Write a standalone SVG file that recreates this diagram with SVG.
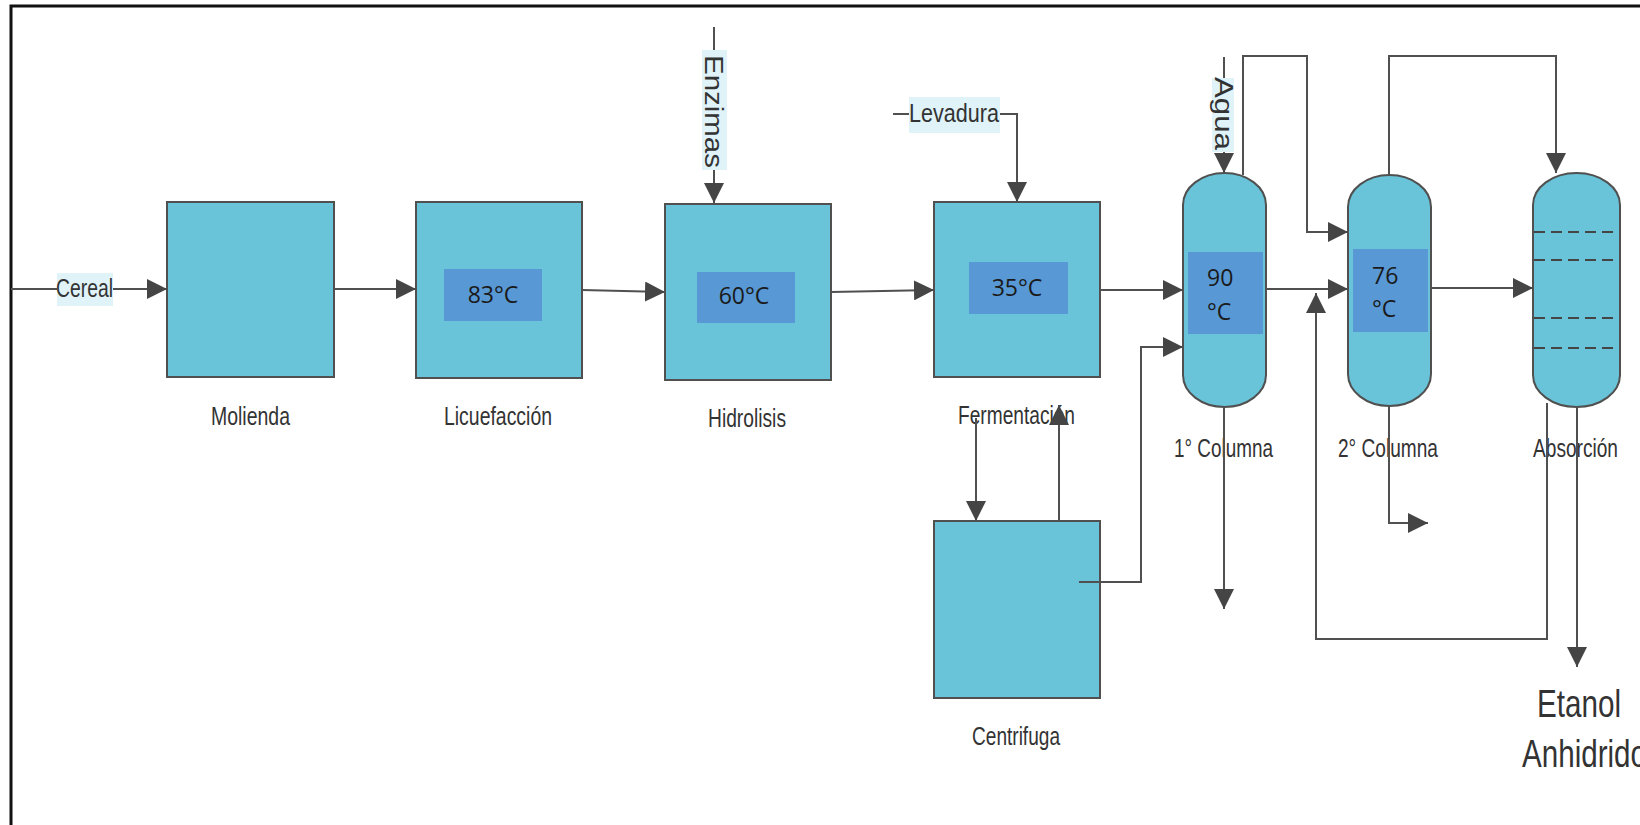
<svg xmlns="http://www.w3.org/2000/svg" width="1640" height="825" viewBox="0 0 1640 825">
  <defs>
    <marker id="arrow" markerUnits="userSpaceOnUse" markerWidth="20" markerHeight="20" refX="20" refY="10" orient="auto">
      <path d="M0,0 L20,10 L0,20 z" fill="#454545"/>
    </marker>
    <style>
      .unit { fill: #6ac4d9; stroke: #505050; stroke-width: 2; }
      .temp { fill: #5898d4; }
      .tempText { font-family: "Open Sans", "DejaVu Sans", sans-serif; font-size: 23px; fill: #1a1a1a; }
      .label { font-family: "Liberation Sans Narrow", "Liberation Sans", Arial, sans-serif; font-size: 25px; fill: #333333; }
      .tag { fill: #dff3f9; }
      .flow { fill: none; stroke: #505050; stroke-width: 2; marker-end: url(#arrow); }
      .tray { stroke: #454545; stroke-width: 2; stroke-dasharray: 11 6; }
    </style>
  </defs>

  <rect x="0" y="0" width="1640" height="825" fill="#ffffff"/>
  <!-- page frame -->
  <path d="M11,825 V6 H1640" fill="none" stroke="#111111" stroke-width="3"/>

  <!-- process units -->
  <g id="molienda">
    <rect class="unit" x="167" y="202" width="167" height="175"/>
    <text class="label" x="211" y="425" textLength="79" lengthAdjust="spacingAndGlyphs">Molienda</text>
  </g>
  <g id="licuefaccion">
    <rect class="unit" x="416" y="202" width="166" height="176"/>
    <rect class="temp" x="444" y="269" width="98" height="52"/>
    <text class="tempText" x="493" y="303" text-anchor="middle">83°C</text>
    <text class="label" x="444" y="425" textLength="108" lengthAdjust="spacingAndGlyphs">Licuefacción</text>
  </g>
  <g id="hidrolisis">
    <rect class="unit" x="665" y="204" width="166" height="176"/>
    <rect class="temp" x="697" y="272" width="98" height="51"/>
    <text class="tempText" x="744" y="304" text-anchor="middle">60°C</text>
    <text class="label" x="708" y="427" textLength="78" lengthAdjust="spacingAndGlyphs">Hidrolisis</text>
  </g>
  <g id="fermentacion">
    <rect class="unit" x="934" y="202" width="166" height="175"/>
    <rect class="temp" x="969" y="262" width="99" height="52"/>
    <text class="tempText" x="1017" y="296" text-anchor="middle">35°C</text>
    <text class="label" x="958" y="424" textLength="117" lengthAdjust="spacingAndGlyphs">Fermentación</text>
  </g>
  <g id="centrifuga">
    <rect class="unit" x="934" y="521" width="166" height="177"/>
    <text class="label" x="972" y="745" textLength="88" lengthAdjust="spacingAndGlyphs">Centrifuga</text>
  </g>
  <g id="columna-1">
    <rect class="unit" x="1183" y="173" width="83" height="234" rx="41.5" ry="32"/>
    <rect class="temp" x="1188" y="252" width="75" height="82"/>
    <text class="tempText" x="1207" y="286">90</text>
    <text class="tempText" x="1207" y="320">°C</text>
    <text class="label" x="1174" y="457" textLength="99" lengthAdjust="spacingAndGlyphs">1° Columna</text>
  </g>
  <g id="columna-2">
    <rect class="unit" x="1348" y="175" width="83" height="231" rx="41.5" ry="32"/>
    <rect class="temp" x="1353" y="249" width="75" height="83"/>
    <text class="tempText" x="1372" y="284">76</text>
    <text class="tempText" x="1372" y="317">°C</text>
    <text class="label" x="1338" y="457" textLength="100" lengthAdjust="spacingAndGlyphs">2° Columna</text>
  </g>
  <g id="absorcion">
    <rect class="unit" x="1533" y="173" width="87" height="234" rx="43.5" ry="32"/>
    <line class="tray" x1="1534" y1="232" x2="1619" y2="232"/>
    <line class="tray" x1="1534" y1="260" x2="1619" y2="260"/>
    <line class="tray" x1="1534" y1="318" x2="1619" y2="318"/>
    <line class="tray" x1="1534" y1="348" x2="1619" y2="348"/>
    <text class="label" transform="translate(1533,457) scale(1,1.25)" x="0" y="0" style="font-size:20px" textLength="85" lengthAdjust="spacingAndGlyphs">Absorción</text>
  </g>
  <g id="producto">
    <text class="label" transform="translate(1537,717) scale(1,1.27)" x="0" y="0" style="font-size:30px" textLength="84" lengthAdjust="spacingAndGlyphs">Etanol</text>
    <text class="label" x="1522" y="767" style="font-size:38px" textLength="125" lengthAdjust="spacingAndGlyphs">Anhidrido</text>
  </g>

  <!-- connectors -->
  <g id="connectors">
    <path class="flow" d="M11,289 H167"/>
    <path class="flow" d="M334,289 H416"/>
    <path class="flow" d="M582,290 L665,292"/>
    <path class="flow" d="M831,292 L934,290"/>
    <path class="flow" d="M1100,290 H1183"/>
    <path class="flow" d="M714,27 V203"/>
    <path class="flow" d="M893,114 H1017 V202"/>
    <path class="flow" d="M1224,57 V173"/>
    <path class="flow" d="M976,418 V521"/>
    <path class="flow" d="M1059,521 V405"/>
    <path class="flow" d="M1079,582 H1141 V347 H1183"/>
    <path class="flow" d="M1243,175 V56 H1307 V232 H1348"/>
    <path class="flow" d="M1266,289 H1348"/>
    <path class="flow" d="M1224,407 V609"/>
    <path class="flow" d="M1389,406 V523 H1428"/>
    <path class="flow" d="M1389,175 V56 H1556 V173"/>
    <path class="flow" d="M1431,288 H1533"/>
    <path class="flow" d="M1547,403 V639 H1316 V293"/>
    <path class="flow" d="M1577,407 V667"/>
  </g>

  <!-- stream tags -->
  <g id="tag-cereal">
    <rect class="tag" x="57" y="273" width="56" height="33"/>
    <text class="label" x="56" y="297" textLength="57" lengthAdjust="spacingAndGlyphs">Cereal</text>
  </g>
  <g id="tag-levadura">
    <rect class="tag" x="909" y="97" width="91" height="36"/>
    <text class="label" x="909" y="122" textLength="90" lengthAdjust="spacingAndGlyphs">Levadura</text>
  </g>
  <g id="tag-enzimas">
    <rect class="tag" x="702" y="50" width="25" height="120"/>
    <text class="label" transform="translate(705,55) rotate(90)" x="0" y="0" textLength="113" lengthAdjust="spacingAndGlyphs">Enzimas</text>
  </g>
  <g id="tag-agua">
    <rect class="tag" x="1212" y="78" width="22" height="74"/>
    <text class="label" transform="translate(1215,77) rotate(90)" x="0" y="0" textLength="73" lengthAdjust="spacingAndGlyphs">Agua</text>
  </g>
</svg>
